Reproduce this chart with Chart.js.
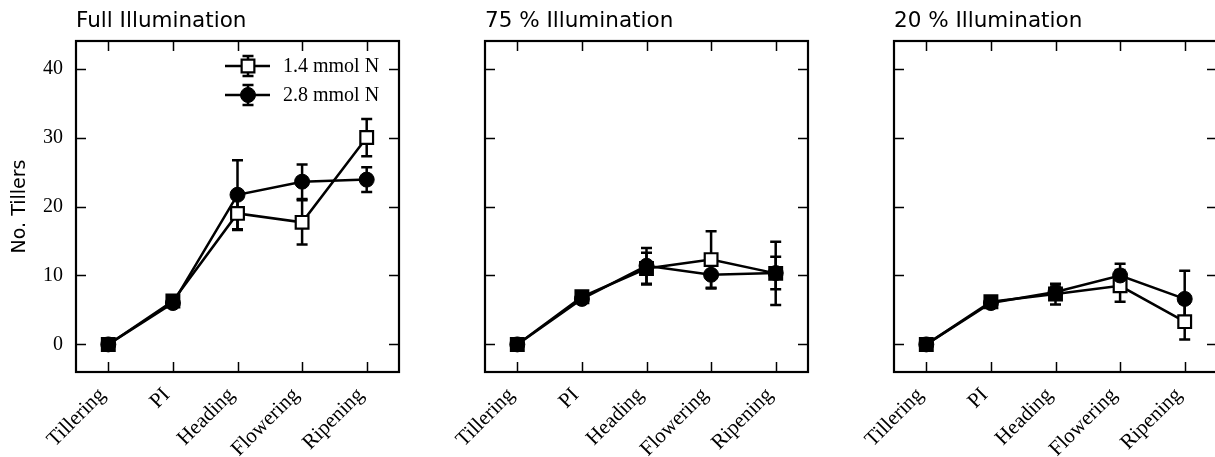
<!DOCTYPE html>
<html>
<head>
<meta charset="utf-8">
<script src="https://cdn.jsdelivr.net/npm/chart.js@4/dist/chart.umd.min.js"></script>
<style>
  html, body { margin: 0; padding: 0; background: #fff; overflow: hidden; }
  #wrap { position: relative; width: 1215px; height: 457px; overflow: hidden; }
  canvas { position: absolute; top: 0; }
</style>
</head>
<body>
<div id="wrap">
  <canvas id="c1" width="420" height="457" style="left:0px"></canvas>
  <canvas id="c2" width="400" height="457" style="left:420px"></canvas>
  <canvas id="c3" width="400" height="457" style="left:829px"></canvas>
</div>
<script>
// Estagios (eixo x) e rotulos
const stages = ['Tillering', 'PI', 'Heading', 'Flowering', 'Ripening'];
const panelTitles = ['Full Illumination', '75 % Illumination', '20 % Illumination'];
const seriesNames = ['1.4 mmol N', '2.8 mmol N'];
const yTickValues = [0, 10, 20, 30, 40];

// Full Illumination
const full14 = [0, 6.3, 19.0, 17.7, 30.0];
const full14Err = [0, 0.6, 2.4, 3.2, 2.7];
const full28 = [0, 6.0, 21.7, 23.6, 23.9];
const full28Err = [0, 0.5, 5.0, 2.5, 1.8];

// 75 % Illumination
const mid14 = [0, 6.9, 11.0, 12.3, 10.3];
const mid14Err = [0, 0.6, 2.3, 4.1, 4.6];
const mid28 = [0, 6.6, 11.4, 10.1, 10.35];
const mid28Err = [0, 0.5, 2.6, 2.0, 2.35];

// 20 % Illumination
const low14 = [0, 6.2, 7.3, 8.5, 3.3];
const low14Err = [0, 0.6, 1.5, 2.3, 2.6];
const low28 = [0, 6.0, 7.6, 10.0, 6.6];
const low28Err = [0, 0.5, 1.1, 1.7, 4.1];

const SERIF = "'Liberation Serif', 'Times New Roman', serif";
const SANS = "'DejaVu Sans', sans-serif";

// quadrado aberto fica preto quando coincide com o circulo (como no original)
function squareFill(own, other) {
    return own.map((v, i) => Math.abs(v - other[i]) < 0.8 ? '#000' : '#fff');
}

// Moldura, ticks para dentro, barras de erro, titulo e legenda
const framePlugin = {
    id: 'frame',
    beforeDatasetsDraw(chart) {
        const ctx = chart.ctx;
        const y = chart.scales.y;
        ctx.save();
        ctx.strokeStyle = '#000';
        ctx.lineWidth = 2.5;
        chart.data.datasets.forEach((ds, di) => {
            const meta = chart.getDatasetMeta(di);
            ds.data.forEach((v, i) => {
                const e = ds.errors[i];
                if (!e) return;
                const px = meta.data[i].x;
                const top = y.getPixelForValue(v + e);
                const bot = y.getPixelForValue(v - e);
                ctx.beginPath();
                ctx.moveTo(px, top); ctx.lineTo(px, bot);
                ctx.moveTo(px - 5.5, top); ctx.lineTo(px + 5.5, top);
                ctx.moveTo(px - 5.5, bot); ctx.lineTo(px + 5.5, bot);
                ctx.stroke();
            });
        });
        ctx.restore();
    },
    afterDraw(chart, args, opts) {
        const ctx = chart.ctx;
        const a = chart.chartArea;
        const x = chart.scales.x;
        const y = chart.scales.y;
        ctx.save();
        ctx.strokeStyle = '#000';
        // ticks para dentro
        ctx.lineWidth = 1.5;
        ctx.beginPath();
        yTickValues.forEach(v => {
            const py = Math.round(y.getPixelForValue(v)) + 0.5;
            ctx.moveTo(a.left, py); ctx.lineTo(a.left + 10, py);
            ctx.moveTo(a.right, py); ctx.lineTo(a.right - 10, py);
        });
        stages.forEach((s, i) => {
            const px = Math.round(x.getPixelForTick(i)) + 0.5;
            ctx.moveTo(px, a.top); ctx.lineTo(px, a.top + 10);
            ctx.moveTo(px, a.bottom); ctx.lineTo(px, a.bottom - 10);
        });
        ctx.stroke();
        // moldura
        ctx.lineWidth = 2.2;
        ctx.strokeRect(a.left, a.top, a.right - a.left, a.bottom - a.top);
        // titulo do painel
        ctx.fillStyle = '#000';
        ctx.font = '21.5px ' + SANS;
        ctx.textAlign = 'left';
        ctx.textBaseline = 'alphabetic';
        ctx.fillText(opts.title, a.left, 27);
        // legenda (so no primeiro painel)
        if (opts.legend) {
            chart.data.datasets.slice().sort((p, q) => p.legendRow - q.legendRow).forEach((ds, r) => {
                const ly = a.top + 25 + r * 29;
                const mx = a.right - 151;
                ctx.strokeStyle = '#000';
                ctx.lineWidth = 2.5;
                ctx.beginPath();
                ctx.moveTo(a.right - 174, ly); ctx.lineTo(a.right - 129, ly);
                ctx.moveTo(mx, ly - 10); ctx.lineTo(mx, ly + 10);
                ctx.moveTo(mx - 5.5, ly - 10); ctx.lineTo(mx + 5.5, ly - 10);
                ctx.moveTo(mx - 5.5, ly + 10); ctx.lineTo(mx + 5.5, ly + 10);
                ctx.stroke();
                ctx.fillStyle = ds.legendFill;
                ctx.lineWidth = ds.pointBorderWidth;
                Chart.helpers.drawPoint(ctx, {
                    pointStyle: ds.pointStyle, radius: ds.pointRadius,
                    rotation: 0, borderWidth: ds.pointBorderWidth
                }, mx, ly);
                ctx.fillStyle = '#000';
                ctx.font = '20px ' + SERIF;
                ctx.textBaseline = 'middle';
                ctx.fillText(ds.label, a.right - 116, ly + 1);
            });
        }
        ctx.restore();
    }
};

function makePanel(id, idx, s14, e14, s28, e28, showY, yWidth, padRight) {
    const datasets = [
        {
            label: seriesNames[0], data: s14, errors: e14, legendRow: 0,
            borderColor: '#000', borderWidth: 2.5, tension: 0,
            pointStyle: 'rect', pointRadius: 9, pointHoverRadius: 9,
            pointBorderWidth: 2.2, pointBorderColor: '#000',
            pointBackgroundColor: squareFill(s14, s28), legendFill: '#fff',
            order: 1
        },
        {
            label: seriesNames[1], data: s28, errors: e28, legendRow: 1,
            borderColor: '#000', borderWidth: 2.5, tension: 0,
            pointStyle: 'circle', pointRadius: 7.5, pointHoverRadius: 7.5,
            pointBorderWidth: 1, pointBorderColor: '#000',
            pointBackgroundColor: '#000', legendFill: '#000',
            order: 0
        }
    ];
    return new Chart(document.getElementById(id), {
        type: 'line',
        data: { labels: stages, datasets: datasets },
        options: {
            responsive: false,
            animation: false,
            events: [],
            layout: { padding: { top: 41, left: 0, right: padRight, bottom: 0 } },
            plugins: {
                legend: { display: false },
                tooltip: { enabled: false },
                frame: { title: panelTitles[idx], legend: idx === 0 }
            },
            scales: {
                x: {
                    type: 'category',
                    offset: true,
                    grid: { display: false, drawTicks: false },
                    border: { display: false },
                    ticks: {
                        minRotation: 45, maxRotation: 45, padding: 11, labelOffset: -6,
                        color: '#000', font: { family: SERIF, size: 21 }
                    },
                    afterFit(scale) { scale.height = 85; }
                },
                y: {
                    min: -4, max: 44,
                    grid: { display: false, drawTicks: false },
                    border: { display: false },
                    afterBuildTicks(scale) { scale.ticks = yTickValues.map(v => ({ value: v })); },
                    ticks: {
                        display: showY, padding: 13,
                        color: '#000', font: { family: SERIF, size: 20 }
                    },
                    title: {
                        display: showY, text: 'No. Tillers', color: '#000',
                        font: { family: SANS, size: 19 }, padding: { top: 9, bottom: 0 }
                    },
                    afterFit(scale) { scale.width = yWidth; }
                }
            }
        },
        plugins: [framePlugin]
    });
}

makePanel('c1', 0, full14, full14Err, full28, full28Err, true, 76, 21);
makePanel('c2', 1, mid14, mid14Err, mid28, mid28Err, false, 65, 12);
makePanel('c3', 2, low14, low14Err, low28, low28Err, false, 65, 12);
</script>
</body>
</html>
